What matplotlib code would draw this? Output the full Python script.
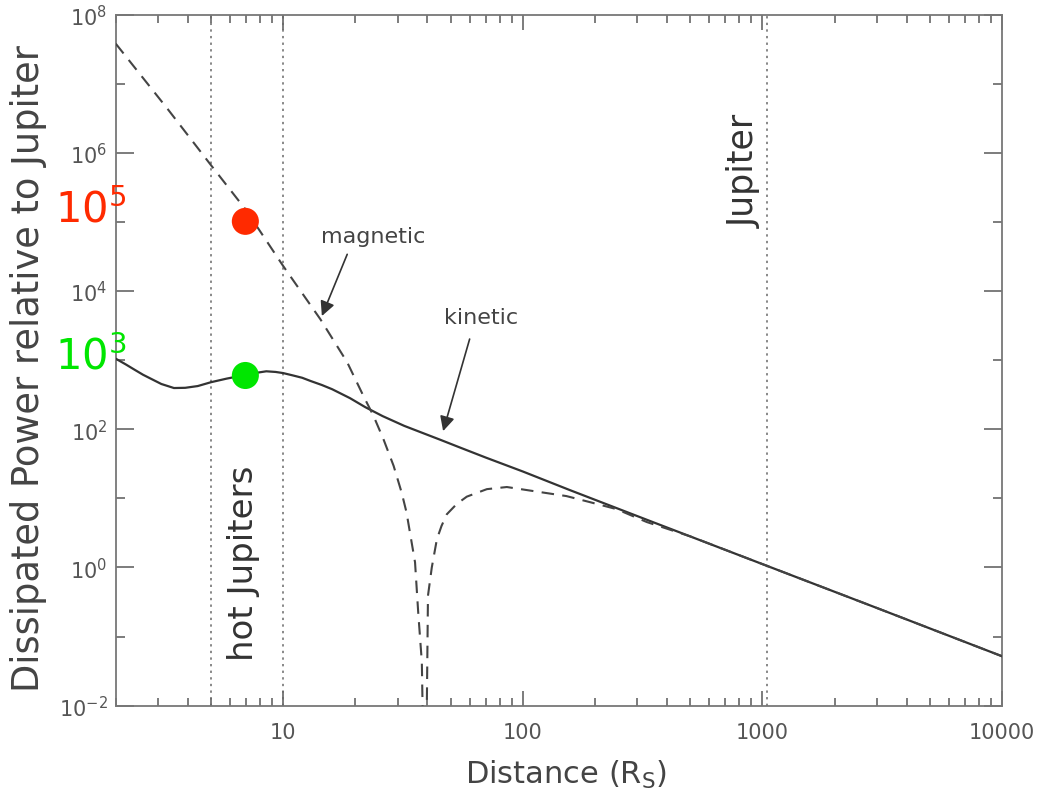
import matplotlib
matplotlib.use("Agg")
import matplotlib.pyplot as plt
from matplotlib.ticker import FixedLocator, FixedFormatter, LogLocator, NullFormatter
from matplotlib.transforms import blended_transform_factory

# =========================
# style
# =========================
plt.rcParams.update({
    "font.family": "DejaVu Sans",
    "mathtext.fontset": "dejavusans",
    "axes.linewidth": 1.3,
    "axes.edgecolor": "#777777",
})

GREY = "#555555"
LINE = "#333333"

# =========================
# data
# =========================
kin_x = [2.0, 2.2, 2.4, 2.6, 2.8, 3.1, 3.5, 3.9, 4.4, 5.0, 5.8, 6.6, 7.5, 8.5, 9.3,
         10, 11, 12, 13, 14.5, 16, 19, 22, 26, 32, 38, 45, 55, 70, 100, 157, 340,
         1000, 3000, 10000]
kin_y = [1050, 870, 725, 615, 540, 452, 395, 398, 422, 480, 540, 590, 645, 690, 675,
         650, 600, 556, 500, 437, 380, 282, 209, 155, 112, 89, 71, 54, 39, 24.5, 13.2, 4.7,
         1.12, 0.26, 0.052]

mag_x = [2.0, 3.3, 5.0, 7.0, 10, 14.3, 18.5, 21.6, 23.8, 26.2, 28.9, 31.2, 32.7, 35.5,
         36.6, 37.9, 39.0, 39.8, 40.2, 41.7, 43.8, 45.8, 48.2, 53, 58.4, 70.8, 85.8, 110,
         152, 190, 246, 329, 500, 1000, 3000, 10000]
mag_y = [3.8e7, 4.27e6, 6.6e5, 1.48e5, 2.3e4, 3.9e3, 930, 305, 157, 72, 29.5, 12.2, 6.3,
         1.19, 0.224, 0.0427, 1e-4, 0.0138, 0.39, 1.0, 2.57, 4.0, 5.9, 8.3, 10.6, 13.6,
         14.6, 12.8, 10.8, 8.85, 7.0, 4.55, 2.82, 1.12, 0.26, 0.052]

# reference distances: hot Jupiter band edges and Jupiter
vlines_x = [5, 10, 1050]

# highlighted points
dots_x = [6.95, 6.95]
dots_y = [1.02e5, 600]
dots_c = ["#ff2a00", "#00e600"]
dot_labels = [r"$10^5$", r"$10^3$"]
dot_label_y = [1.45e5, 1.1e3]

y_major = [1e-2, 1e0, 1e2, 1e4, 1e6, 1e8]
y_major_labels = [r"$10^{-2}$", r"$10^{0}$", r"$10^{2}$", r"$10^{4}$", r"$10^{6}$", r"$10^{8}$"]
y_minor = [1e-1, 1e1, 1e3, 1e5, 1e7]
x_major = [10, 100, 1000, 10000]
x_major_labels = ["10", "100", "1000", "10000"]

# =========================
# plot
# =========================
fig = plt.figure(figsize=(10.38, 8.04), dpi=100)
ax = fig.add_axes([0.1115, 0.121, 0.8538, 0.8596])
ax.set_xscale("log")
ax.set_yscale("log")
ax.set_xlim(2, 10000)
ax.set_ylim(1e-2, 1e8)

for xv in vlines_x:
    ax.axvline(xv, color="#888888", linestyle=(0, (1.2, 2.2)), linewidth=1.4, zorder=1)

ax.plot(kin_x, kin_y, color=LINE, linewidth=1.6, zorder=3)
ax.plot(mag_x, mag_y, color="#444444", linewidth=1.5, linestyle=(0, (6, 4)), zorder=4)

ax.scatter(dots_x, dots_y, s=380, c=dots_c, zorder=5, linewidths=0)

# coloured level labels left of the axis
trans = blended_transform_factory(ax.transAxes, ax.transData)
for lab, yv, c in zip(dot_labels, dot_label_y, dots_c):
    ax.text(0.012, yv, lab, transform=trans, ha="right", va="center",
            fontsize=30, color=c, family="Noto Sans", clip_on=False)

# axis ticks
ax.yaxis.set_major_locator(FixedLocator(y_major))
ax.yaxis.set_major_formatter(FixedFormatter(y_major_labels))
ax.yaxis.set_minor_locator(FixedLocator(y_minor))
ax.yaxis.set_minor_formatter(NullFormatter())
ax.xaxis.set_major_locator(FixedLocator(x_major))
ax.xaxis.set_major_formatter(FixedFormatter(x_major_labels))
ax.xaxis.set_minor_locator(LogLocator(base=10, subs=range(2, 10), numticks=20))
ax.xaxis.set_minor_formatter(NullFormatter())

ax.tick_params(which="both", direction="in", top=True, right=True,
               color="#666666", width=1.2, labelcolor=GREY, labelsize=15)
ax.tick_params(axis="x", which="major", length=11, pad=12)
ax.tick_params(axis="x", which="minor", length=5.5)
ax.tick_params(axis="y", which="major", length=13, pad=6)
ax.tick_params(axis="y", which="minor", length=6.5)

ax.set_xlabel(r"Distance (R$_\mathrm{S}$)", fontsize=22, color="#444444")
ax.set_ylabel("Dissipated Power relative to Jupiter", fontsize=26.5, color="#444444")
ax.xaxis.set_label_coords(0.508, -0.075)
ax.yaxis.set_label_coords(-0.078, 0.49)

# labels inside the plot
ax.text(6.81, 1.2, "hot Jupiters", rotation=90, ha="center", va="center",
        fontsize=24.5, color="#333333")
ax.text(841, 5.5e5, "Jupiter", rotation=90, ha="center", va="center",
        fontsize=25, color="#333333")

ax.text(23.7, 6.2e4, "magnetic", ha="center", va="center", fontsize=16, color="#444444")
ax.annotate("", xy=(14.5, 4350), xytext=(18.5, 3.4e4),
            arrowprops=dict(arrowstyle="-|>", color="#333333", lw=1.2,
                            mutation_scale=22, shrinkA=0, shrinkB=0))

ax.text(66.8, 4200, "kinetic", ha="center", va="center", fontsize=16, color="#444444")
ax.annotate("", xy=(46.5, 94), xytext=(60, 2020),
            arrowprops=dict(arrowstyle="-|>", color="#333333", lw=1.2,
                            mutation_scale=22, shrinkA=0, shrinkB=0))

fig.savefig("out.png", dpi=100)
